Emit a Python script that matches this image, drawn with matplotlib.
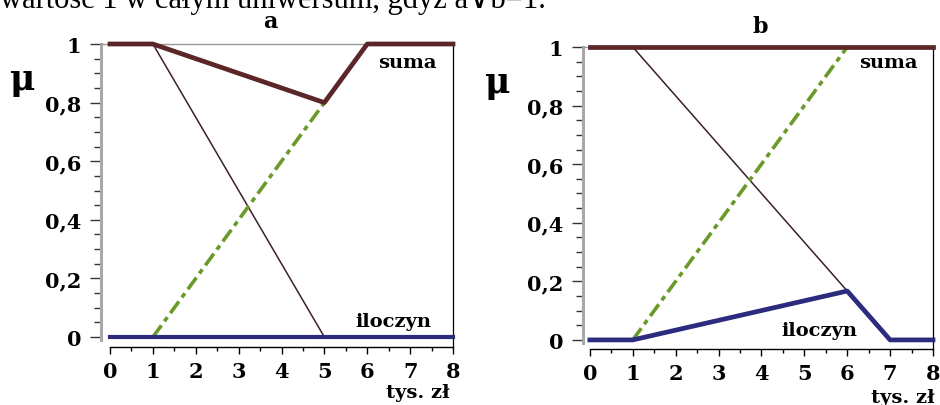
import matplotlib.pyplot as plt
from matplotlib.ticker import MultipleLocator, FixedLocator

plt.rcParams['font.family'] = ['DejaVu Serif']

# panel a: breakpoints (x in tys. zl, mu)
a_set_x = [1, 5]
a_set_y = [1, 0]
a_green_x = [1, 5]
a_green_y = [0, 0.8]
a_suma_x = [0, 1, 5, 6, 8]
a_suma_y = [1, 1, 0.8, 1, 1]
a_iloczyn_x = [0, 8]
a_iloczyn_y = [0, 0]

# panel b
b_set_x = [1, 6]
b_set_y = [1, 0.167]
b_green_x = [1, 6]
b_green_y = [0, 1]
b_suma_x = [0, 8]
b_suma_y = [1, 1]
b_iloczyn_x = [0, 1, 6, 7, 8]
b_iloczyn_y = [0, 0, 0.167, 0, 0]

y_ticks = [0, 0.2, 0.4, 0.6, 0.8, 1]
y_labels = ['0', '0,2', '0,4', '0,6', '0,8', '1']
x_ticks = [0, 1, 2, 3, 4, 5, 6, 7, 8]

C_SUMA = '#5a2628'
C_ILO = '#2b2b80'
C_GREEN = '#6b9a2a'
C_THIN = '#3a2030'


def setup(ax, xmin, ymin):
  ax.set_xlim(xmin, 8)
  ax.set_ylim(ymin, 1.0)
  ax.spines['left'].set_color('#a8a8a8')
  ax.spines['left'].set_linewidth(2.2)
  ax.spines['left'].set_bounds(-0.01, 1)
  ax.spines['top'].set_color('#9a9a9a')
  ax.spines['top'].set_linewidth(1.0)
  ax.spines['right'].set_color('black')
  ax.spines['right'].set_linewidth(0.9)
  ax.spines['bottom'].set_linewidth(1.0)
  ax.spines['bottom'].set_bounds(0, 8)
  ax.yaxis.set_major_locator(FixedLocator(y_ticks))
  ax.set_yticklabels(y_labels)
  ax.yaxis.set_minor_locator(MultipleLocator(0.05))
  ax.xaxis.set_major_locator(FixedLocator(x_ticks))
  ax.xaxis.set_minor_locator(MultipleLocator(0.5))
  ax.tick_params(axis='y', which='major', length=8, width=1, color='#333333',
                 pad=6, labelsize=15)
  ax.tick_params(axis='y', which='minor', length=5, width=1, color='#333333')
  ax.tick_params(axis='x', which='major', length=5, width=1, pad=5, labelsize=15)
  ax.tick_params(axis='x', which='minor', length=3, width=1)
  for lab in ax.get_xticklabels() + ax.get_yticklabels():
    lab.set_fontweight('bold')


fig = plt.figure(figsize=(9.4, 4.06), dpi=100)
ax1 = fig.add_axes([101/940, 58/406, 352/940, 303/406])
ax2 = fig.add_axes([583/940, 56/406, 350/940, 302/406])

setup(ax1, -0.21, -0.034)
ax1.plot(a_set_x, a_set_y, color=C_THIN, lw=1.1, zorder=3)
ax1.plot(a_green_x, a_green_y, color=C_GREEN, lw=2.6, dashes=(4, 1.4, 1.4, 1.4), zorder=3)
ax1.plot(a_suma_x, a_suma_y, color=C_SUMA, lw=3.4, clip_on=False, zorder=4)
ax1.plot(a_iloczyn_x, a_iloczyn_y, color=C_ILO, lw=3.0, clip_on=False, zorder=4)
ax1.text(6.93, 0.94, 'suma', ha='center', va='center', fontsize=14, fontweight='bold')
ax1.text(6.6, 0.055, 'iloczyn', ha='center', va='center', fontsize=14, fontweight='bold')

setup(ax2, -0.16, -0.031)
ax2.plot(b_set_x, b_set_y, color=C_THIN, lw=1.1, zorder=3)
ax2.plot(b_green_x, b_green_y, color=C_GREEN, lw=2.6, dashes=(4, 1.4, 1.4, 1.4), zorder=3)
ax2.plot(b_suma_x, b_suma_y, color=C_SUMA, lw=3.4, clip_on=False, zorder=4)
ax2.plot(b_iloczyn_x, b_iloczyn_y, color=C_ILO, lw=3.4, clip_on=False, zorder=4)
ax2.text(6.95, 0.95, 'suma', ha='center', va='center', fontsize=14, fontweight='bold')
ax2.text(5.36, 0.035, 'iloczyn', ha='center', va='center', fontsize=14, fontweight='bold')

# titles, mu symbols, axis units
fig.text(270/940, 1 - 22/406, 'a', ha='center', va='center', fontsize=16, fontweight='bold')
fig.text(760/940, 1 - 27/406, 'b', ha='center', va='center', fontsize=16, fontweight='bold')
fig.text(22/940, 1 - 80/406, 'μ', ha='center', va='center', fontsize=25, fontweight='bold')
fig.text(497/940, 1 - 83/406, 'μ', ha='center', va='center', fontsize=25, fontweight='bold')
fig.text(418/940, 1 - 393/406, 'tys. zł', ha='center', va='center', fontsize=14, fontweight='bold')
fig.text(903/940, 1 - 398/406, 'tys. zł', ha='center', va='center', fontsize=14, fontweight='bold')

# clipped line of document text at the very top
fig.text(0, 1 - 8/406, 'wartość 1 w całym uniwersum, gdyż a∨b=1.', ha='left',
         va='baseline', fontsize=22, family=['Liberation Serif', 'DejaVu Serif'])

fig.savefig('out.png', dpi=100)
